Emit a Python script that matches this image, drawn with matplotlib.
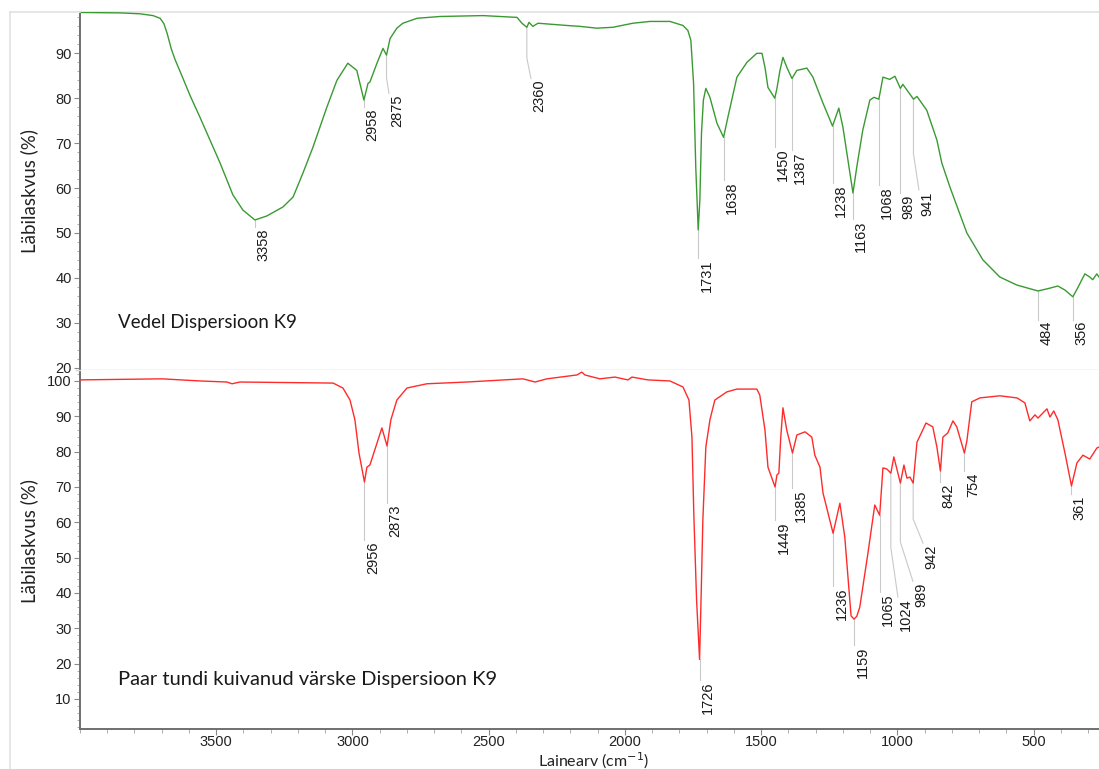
import matplotlib
matplotlib.use("Agg")
import matplotlib.pyplot as plt
import matplotlib.transforms as mtransforms
from matplotlib.lines import Line2D
from matplotlib.ticker import MultipleLocator
import numpy as np

# ---------------- data ----------------
# Top spectrum: "Vedel Dispersioon K9" (wavenumber cm-1, transmittance %)
top_wn = [4000, 3853, 3780, 3732, 3706, 3692, 3680, 3665, 3651, 3626,
          3596, 3560, 3523, 3486, 3439, 3402, 3358, 3314, 3255, 3218,
          3182, 3145, 3094, 3057, 3017, 2984, 2958, 2943, 2936, 2910,
          2888, 2875, 2862, 2837, 2815, 2763, 2679, 2521, 2396, 2378,
          2360, 2352, 2338, 2319, 2213, 2165, 2103, 2044, 1971, 1908,
          1835, 1787, 1769, 1758, 1748, 1740, 1731, 1725, 1719, 1712,
          1703, 1688, 1662, 1638, 1622, 1589, 1552, 1516, 1497, 1486,
          1475, 1450, 1442, 1431, 1420, 1406, 1387, 1369, 1332, 1310,
          1273, 1238, 1215, 1200, 1163, 1149, 1127, 1101, 1086, 1068,
          1053, 1028, 1009, 989, 980, 941, 928, 892, 855, 837,
          807, 745, 686, 624, 561, 484, 448, 411, 385, 356,
          338, 312, 294, 283, 268, 260]
top_t = [99.1, 99.0, 98.8, 98.4, 97.8, 96.6, 94.4, 91.0, 88.6, 85.0,
         80.6, 75.8, 70.7, 65.6, 58.5, 55.1, 52.9, 53.8, 55.8, 58.0,
         63.3, 69.1, 78.0, 84.0, 87.8, 86.2, 79.6, 83.3, 83.6, 87.8,
         91.1, 89.6, 93.3, 95.6, 96.7, 97.8, 98.2, 98.4, 98.0, 96.7,
         95.8, 96.9, 96.0, 96.7, 96.2, 96.0, 95.6, 95.8, 96.7, 97.1,
         97.1, 96.2, 95.1, 92.9, 83.3, 64.7, 50.7, 57.3, 72.2, 79.6,
         82.2, 80.2, 74.4, 71.3, 75.8, 84.7, 88.0, 90.0, 90.0, 86.9,
         82.4, 80.0, 82.2, 86.2, 89.1, 86.9, 84.4, 86.2, 86.7, 84.7,
         78.9, 73.8, 77.8, 73.6, 58.9, 64.7, 72.9, 79.6, 80.2, 79.8,
         84.7, 84.2, 84.9, 82.2, 83.1, 79.8, 80.4, 77.3, 70.7, 65.6,
         60.2, 50.0, 44.0, 40.2, 38.4, 37.1, 37.6, 38.2, 37.3, 35.8,
         37.8, 40.9, 40.2, 39.6, 40.9, 40.2]

# Bottom spectrum: "Paar tundi kuivanud värske Dispersioon K9"
bot_wn = [4000, 3699, 3560, 3461, 3442, 3413, 3071, 3035, 3009, 2991,
          2976, 2956, 2947, 2936, 2910, 2892, 2873, 2859, 2837, 2800,
          2727, 2580, 2374, 2330, 2286, 2176, 2158, 2147, 2092, 2037,
          1989, 1974, 1916, 1835, 1787, 1765, 1754, 1747, 1737, 1726,
          1720, 1714, 1703, 1688, 1670, 1626, 1589, 1516, 1505, 1486,
          1475, 1449, 1442, 1435, 1428, 1420, 1406, 1385, 1369, 1339,
          1314, 1303, 1284, 1273, 1236, 1211, 1193, 1170, 1159, 1149,
          1138, 1108, 1083, 1065, 1053, 1039, 1024, 1013, 989, 976,
          965, 954, 942, 928, 910, 895, 870, 855, 842, 833,
          815, 796, 782, 754, 745, 727, 697, 624, 561, 532,
          514, 495, 484, 451, 440, 426, 411, 385, 361, 341,
          319, 294, 268, 260]
bot_t = [100.3, 100.6, 100.0, 99.7, 99.2, 99.7, 99.4, 98.0, 94.6, 89.0,
         79.6, 71.4, 75.6, 76.2, 82.4, 86.7, 81.6, 89.0, 94.6, 98.0,
         99.2, 99.7, 100.6, 99.7, 100.6, 101.7, 102.5, 101.7, 100.6, 101.1,
         100.3, 101.1, 100.3, 100.0, 98.3, 94.6, 84.1, 62.0, 38.0, 21.2,
         40.0, 60.6, 81.3, 89.0, 94.6, 96.9, 97.7, 97.7, 96.0, 86.1,
         75.6, 70.0, 73.4, 73.9, 84.1, 92.4, 86.1, 79.6, 84.7, 85.6,
         84.1, 79.0, 75.6, 68.3, 56.9, 65.4, 55.8, 33.5, 32.6, 33.4,
         36.0, 51.3, 64.9, 62.0, 75.4, 75.1, 73.9, 78.5, 71.1, 76.2,
         72.5, 72.8, 71.1, 82.7, 85.6, 88.1, 87.0, 81.3, 74.5, 84.1,
         85.3, 88.7, 87.0, 79.6, 83.0, 94.1, 95.2, 95.8, 95.2, 93.8,
         88.7, 90.4, 89.5, 92.1, 89.8, 91.5, 89.0, 79.6, 70.3, 76.8,
         79.0, 77.9, 81.0, 81.3]

# peak labels
top_peaks = [3358, 2958, 2875, 2360, 1731, 1638, 1450, 1387, 1238, 1163,
             1068, 989, 941, 484, 356]
bot_peaks = [2956, 2873, 1726, 1449, 1385, 1236, 1159, 1065, 1024, 989,
             942, 842, 754, 361]

top_title = "Vedel Dispersioon K9"
bot_title = "Paar tundi kuivanud värske Dispersioon K9"
y_label = "Läbilaskvus (%)"
x_label = "Lainearv (cm$^{-1}$)"
x_ticks = [3500, 3000, 2500, 2000, 1500, 1000, 500]

# ---------------- layout (label placement) ----------------
top_lab_y = [51.3, 78.0, 81.1, 84.4, 44.4, 61.8, 69.1, 68.4, 61.1, 53.1,
             60.7, 58.9, 59.6, 30.7, 30.7]
top_lab_x = {2875: 2866, 2360: 2345, 941: 921}
bot_lab_y = [55.0, 65.4, 15.3, 60.6, 69.7, 41.9, 25.2, 40.2, 38.8, 43.3,
             54.1, 71.4, 74.5, 68.0]
bot_lab_x = {1024: 998, 989: 943, 942: 906}

W, H = 1099, 769
fig = plt.figure(figsize=(W / 100, H / 100), dpi=100)


def fx(px):
    return px / W


def fy(py):
    return 1 - py / H


ax1 = fig.add_axes([fx(80), fy(370), 1 - fx(80), fy(12) - fy(370)])
ax2 = fig.add_axes([fx(80), fy(729), 1 - fx(80), fy(370) - fy(729)])

GREEN = "#3a9a32"
RED = "#ff2b2b"
SPINE = "#6f6f6f"
LIGHT = "#d6d6d6"
TICKFONT = "Liberation Sans"
TITLEFONT = "Lato"

ax1.plot(top_wn, top_t, color=GREEN, lw=1.0, zorder=3)
ax2.plot(bot_wn, bot_t, color=RED, lw=1.0, zorder=3)

ax1.set_ylim(19.5, 99.2)
ax2.set_ylim(1.5, 103.1)
ax1.set_yticks([20, 30, 40, 50, 60, 70, 80, 90])
ax2.set_yticks([10, 20, 30, 40, 50, 60, 70, 80, 90, 100])

for ax in (ax1, ax2):
    ax.set_xlim(4000, 260)
    ax.yaxis.set_minor_locator(MultipleLocator(2))
    ax.tick_params(axis="y", which="major", direction="out", length=4,
                   width=0.8, color="#8a8a8a", labelsize=10.5,
                   labelcolor="#222222", pad=2)
    ax.tick_params(axis="y", which="minor", direction="out", length=2.5,
                   width=0.6, color="#a0a0a0")
    for lab in ax.get_yticklabels():
        lab.set_fontfamily(TICKFONT)
    ax.spines["right"].set_visible(False)
    ax.spines["left"].set_color(SPINE)
    ax.spines["left"].set_linewidth(1.4)
    ax.set_ylabel(y_label, family=TITLEFONT, fontsize=13.5, color="#222222")

ax1.yaxis.set_label_coords(-0.041, 0.5)
ax2.yaxis.set_label_coords(-0.041, 0.524)

# top axes: no x ticks, light grey top & bottom lines
ax1.tick_params(axis="x", which="both", bottom=False, labelbottom=False)
ax1.spines["top"].set_color("#e2e2e2")
ax1.spines["top"].set_linewidth(1.2)
ax1.spines["bottom"].set_color(LIGHT)
ax1.spines["bottom"].set_linewidth(1.0)

# bottom axes x axis
ax2.spines["top"].set_visible(False)
ax2.spines["bottom"].set_color(SPINE)
ax2.spines["bottom"].set_linewidth(1.4)
ax2.set_xticks(x_ticks)
ax2.xaxis.set_minor_locator(MultipleLocator(100))
ax2.tick_params(axis="x", which="major", direction="out", length=4,
                width=0.8, color="#8a8a8a", labelsize=10.5,
                labelcolor="#222222", pad=0.5)
ax2.tick_params(axis="x", which="minor", direction="out", length=3,
                width=0.6, color="#a0a0a0")
for lab in ax2.get_xticklabels():
    lab.set_fontfamily(TICKFONT)

fig.text(fx(594), fy(760.5), x_label, ha="center", va="center",
         family=TITLEFONT, fontsize=11.5, color="#222222")

ax1.text(0.0373, 0.134, top_title, transform=ax1.transAxes, ha="left",
         va="center", family=TITLEFONT, fontsize=13.5, color="#1a1a1a")
ax2.text(0.0373, 0.139, bot_title, transform=ax2.transAxes, ha="left",
         va="center", family=TITLEFONT, fontsize=14.5, color="#1a1a1a")


def annotate(ax, wn, tr, peaks, lab_y, lab_x):
    order = np.argsort(wn)
    ws = np.asarray(wn, float)[order]
    vs = np.asarray(tr, float)[order]
    off = mtransforms.offset_copy(ax.transData, fig=fig, x=1.0, y=-1.0,
                                  units="points")
    for p, ly in zip(peaks, lab_y):
        pv = np.interp(p, ws, vs)
        lx = lab_x.get(p, p)
        if lx == p:
            xs, ys = [p, p], [pv, ly]
        else:
            knee = ly + 0.4 * (pv - ly)
            xs, ys = [p, p, lx], [pv, knee, ly]
        ax.plot(xs, ys, color="#c9c9c9", lw=0.8, zorder=2)
        ax.text(lx, ly, str(p), rotation=90, ha="left", va="top",
                transform=off, family=TICKFONT, fontsize=10.5,
                color="#1a1a1a", zorder=4)


annotate(ax1, top_wn, top_t, top_peaks, top_lab_y, top_lab_x)
annotate(ax2, bot_wn, bot_t, bot_peaks, bot_lab_y, bot_lab_x)

# faint outer frame (left and top)
fig.add_artist(Line2D([fx(10), fx(10)], [fy(12), fy(769)], color="#e2e2e2",
                      lw=1.2, transform=fig.transFigure))
fig.add_artist(Line2D([fx(10), fx(80)], [fy(12), fy(12)], color="#e2e2e2",
                      lw=1.2, transform=fig.transFigure))
fig.add_artist(Line2D([fx(76), fx(80)], [fy(370), fy(370)], color=LIGHT,
                      lw=1.0, transform=fig.transFigure))

fig.savefig("out.png", dpi=100)
